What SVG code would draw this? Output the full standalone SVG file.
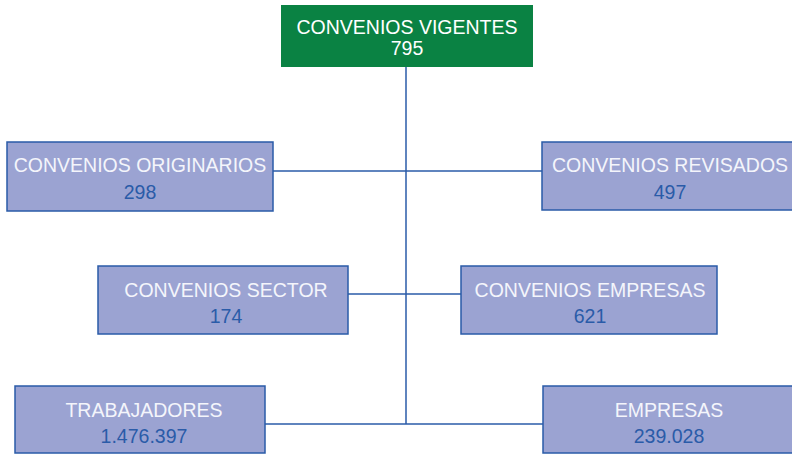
<svg xmlns="http://www.w3.org/2000/svg" width="792" height="455" viewBox="0 0 792 455">
<style>
.box{fill:#9BA3D2;stroke:#2A5BA8;stroke-width:1.5}
.lbl{font-family:"Liberation Sans",Arial,sans-serif;font-size:19.5px;fill:#F4F5FB;text-anchor:middle}
.num{font-family:"Liberation Sans",Arial,sans-serif;font-size:19.5px;fill:#2A5BA8;text-anchor:middle}
.top{fill:#0A8243}
.ttl{font-family:"Liberation Sans",Arial,sans-serif;font-size:19.5px;fill:#FFFFFF;text-anchor:middle}
.con{stroke:#2A5BA8;stroke-width:1.5;fill:none}
</style>
<rect width="792" height="455" fill="#FFFFFF"/>
<g id="connectors">
<line class="con" x1="406" y1="67" x2="406" y2="424"/>
<line class="con" x1="273" y1="171" x2="542" y2="171"/>
<line class="con" x1="348" y1="294" x2="461" y2="294"/>
<line class="con" x1="265" y1="424" x2="543" y2="424"/>
</g>
<g id="vigentes">
<rect class="top" x="281" y="5" width="252" height="62"/>
<text class="ttl" x="407" y="34">CONVENIOS VIGENTES</text>
<text class="ttl" x="407" y="55">795</text>
</g>
<g id="originarios">
<rect class="box" x="7" y="142" width="266" height="69"/>
<text class="lbl" x="140" y="172">CONVENIOS ORIGINARIOS</text>
<text class="num" x="140" y="199">298</text>
</g>
<g id="revisados">
<rect class="box" x="542" y="142" width="256" height="68"/>
<text class="lbl" x="670" y="172">CONVENIOS REVISADOS</text>
<text class="num" x="670" y="199">497</text>
</g>
<g id="sector">
<rect class="box" x="98" y="266" width="250" height="68"/>
<text class="lbl" x="226" y="297">CONVENIOS SECTOR</text>
<text class="num" x="226" y="323">174</text>
</g>
<g id="conv-empresas">
<rect class="box" x="461" y="266" width="256" height="68"/>
<text class="lbl" x="590" y="297">CONVENIOS EMPRESAS</text>
<text class="num" x="590" y="323">621</text>
</g>
<g id="trabajadores">
<rect class="box" x="15" y="386" width="250" height="67"/>
<text class="lbl" x="144" y="417">TRABAJADORES</text>
<text class="num" x="144" y="443">1.476.397</text>
</g>
<g id="empresas">
<rect class="box" x="543" y="386" width="255" height="67"/>
<text class="lbl" x="669" y="417">EMPRESAS</text>
<text class="num" x="669" y="443">239.028</text>
</g>
</svg>
